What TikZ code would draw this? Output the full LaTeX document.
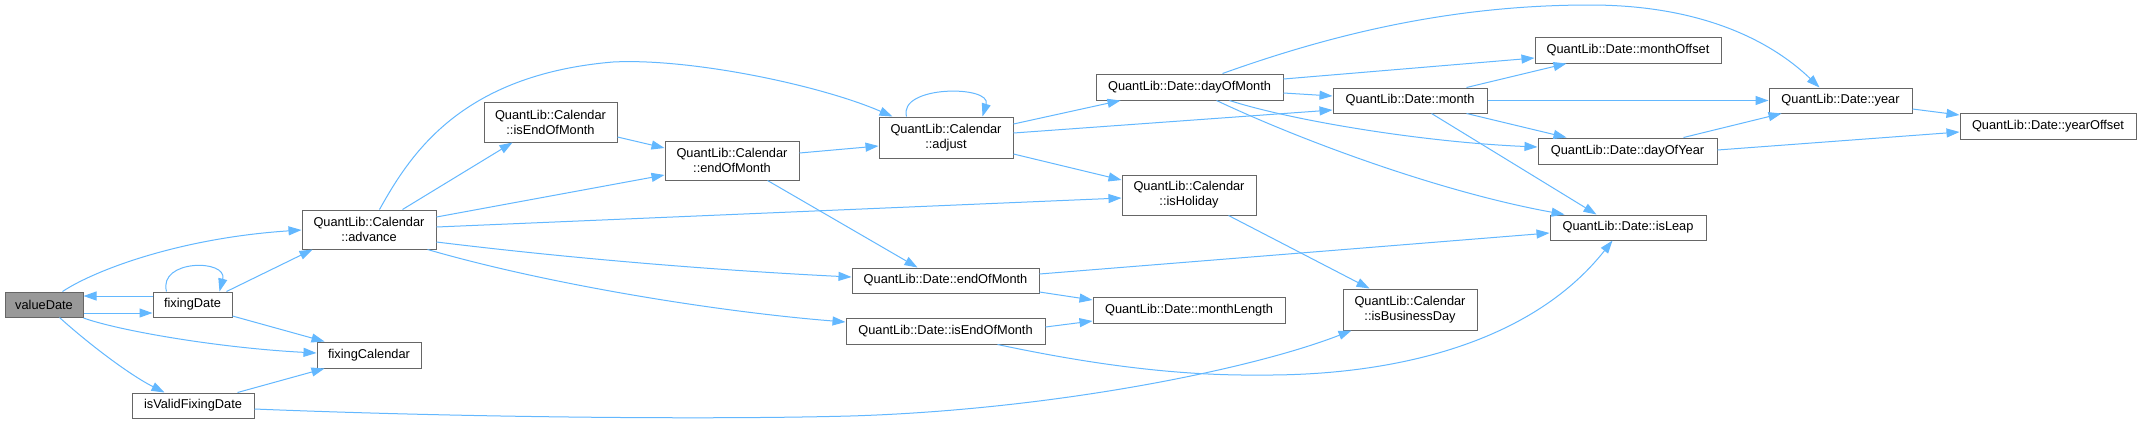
\documentclass[tikz,border=0pt]{standalone}
\usepackage{fontspec}
\setmainfont{Liberation Sans}
\usetikzlibrary{arrows.meta,calc}
\definecolor{edgeblue}{HTML}{63B8FF}
\definecolor{nodeborder}{HTML}{666666}
\definecolor{rootfill}{HTML}{999999}
\begin{document}
\begin{tikzpicture}[x=1pt,y=-1pt,
  box/.style={draw=nodeborder, line width=1pt, fill=white, inner sep=0pt, align=center,
    font=\fontsize{12.8}{15}\selectfont},
  root/.style={box, fill=rootfill},
  call/.style={draw=edgeblue, line width=1pt, -{Triangle[length=13pt,width=9pt]}}]
\fill[white] (0,0) rectangle (2141,424);
\useasboundingbox (0,0) rectangle (2141,424);
% nodes
\node[root, minimum width=78, minimum height=25] (vd) at (44,304.5) {valueDate};
\node[box, minimum width=79, minimum height=25] (fd) at (192.5,304.5) {fixingDate};
\node[box, minimum width=134, minimum height=39] (adv) at (369,229.5) {QuantLib::Calendar\\::advance};
\node[box, minimum width=104, minimum height=26] (fc) at (369,355) {fixingCalendar};
\node[box, minimum width=122, minimum height=25] (iv) at (193,405.5) {isValidFixingDate};
\node[box, minimum width=133, minimum height=40] (cie) at (550.5,122) {QuantLib::Calendar\\::isEndOfMonth};
\node[box, minimum width=134, minimum height=39] (ce) at (732,160.5) {QuantLib::Calendar\\::endOfMonth};
\node[box, minimum width=134, minimum height=41] (adj) at (946,137.5) {QuantLib::Calendar\\::adjust};
\node[box, minimum width=187, minimum height=25] (deom) at (945.5,280.5) {QuantLib::Date::endOfMonth};
\node[box, minimum width=199, minimum height=26] (dieom) at (945.5,331) {QuantLib::Date::isEndOfMonth};
\node[box, minimum width=192, minimum height=26] (ml) at (1189,310) {QuantLib::Date::monthLength};
\node[box, minimum width=134, minimum height=40] (hol) at (1189,195) {QuantLib::Calendar\\::isHoliday};
\node[box, minimum width=134, minimum height=41] (bd) at (1410,309.5) {QuantLib::Calendar\\::isBusinessDay};
\node[box, minimum width=187, minimum height=26] (dom) at (1189.5,87) {QuantLib::Date::dayOfMonth};
\node[box, minimum width=154, minimum height=25] (mon) at (1410,100.5) {QuantLib::Date::month};
\node[box, minimum width=186, minimum height=26] (mo) at (1628,50) {QuantLib::Date::monthOffset};
\node[box, minimum width=179, minimum height=26] (doy) at (1627.5,151) {QuantLib::Date::dayOfYear};
\node[box, minimum width=156, minimum height=25] (leap) at (1628,227.5) {QuantLib::Date::isLeap};
\node[box, minimum width=143, minimum height=25] (year) at (1840.5,100.5) {QuantLib::Date::year};
\node[box, minimum width=176, minimum height=26] (yo) at (2048,126) {QuantLib::Date::yearOffset};
% edges
\draw[call] ($(vd.north west)+(58,0)$) .. controls (95,270) and (180,238) .. ($(adv.west)+(0,0.5)$);
\draw[call] ($(vd.east)+(0,8.5)$) -- ($(fd.west)+(0,8.5)$);
\draw[call] ($(fd.west)+(0,-8.5)$) -- ($(vd.east)+(0,-8.5)$);
\draw[call] ($(fd.north west)+(14,0)$) .. controls (158,259) and (228,259) .. ($(fd.north west)+(67,0)$);
\draw[call] ($(fd.north west)+(74,0)$) -- ($(adv.south west)+(11,0)$);
\draw[call] ($(fd.east)+(0,11.5)$) -- ($(fc.north west)+(8,0)$);
\draw[call] ($(vd.east)+(0,13.5)$) .. controls (120,331) and (220,348) .. ($(fc.west)+(0,-2)$);
\draw[call] ($(vd.south west)+(55,0)$) .. controls (90,345) and (130,375) .. ($(iv.north west)+(33,0)$);
\draw[call] ($(iv.north west)+(106,0)$) -- ($(fc.south west)+(8,0)$);
\draw[call] ($(iv.east)+(0,3.5)$) .. controls (450,417) and (700,420) .. (850,416)
  .. controls (1050,410) and (1250,370) .. ($(bd.south west)+(9,0)$);
\draw[call] ($(adv.north west)+(78,0)$) .. controls (410,155) and (460,75) .. (613,62)
  .. controls (690,58) and (820,85) .. ($(adj.north west)+(14,0)$);
\draw[call] ($(adv.north west)+(101,0)$) -- ($(cie.south west)+(29,0)$);
\draw[call] ($(adv.east)+(0,-12.5)$) -- ($(ce.west)+(0,14.5)$);
\draw[call] ($(adv.east)+(0,-2.5)$) -- ($(hol.west)+(0,3)$);
\draw[call] ($(adv.east)+(0,12.5)$) .. controls (600,262) and (750,272) .. ($(deom.west)+(0,-3.5)$);
\draw[call] ($(adv.south east)+(-9,0)$) .. controls (550,285) and (720,312) .. ($(dieom.west)+(0,-9)$);
\draw[call] ($(cie.east)+(0,15)$) -- ($(ce.west)+(0,-12.5)$);
\draw[call] ($(ce.east)+(0,-7.5)$) -- ($(adj.west)+(0,8.5)$);
\draw[call] ($(ce.south west)+(103,0)$) -- ($(deom.north west)+(66,0)$);
\draw[call] ($(adj.north west)+(28,0)$) .. controls (898,85) and (992,85) .. ($(adj.north west)+(104,0)$);
\draw[call] ($(adj.east)+(0,-13.5)$) -- ($(dom.south west)+(25,0)$);
\draw[call] ($(adj.east)+(0,-4.5)$) -- ($(mon.west)+(0,9.5)$);
\draw[call] ($(adj.east)+(0,16.5)$) -- ($(hol.west)+(0,-15)$);
\draw[call] ($(hol.south west)+(107,0)$) -- ($(bd.north west)+(27,0)$);
\draw[call] ($(deom.east)+(0,-6.5)$) -- ($(leap.west)+(0,5.5)$);
\draw[call] ($(deom.east)+(0,11.5)$) -- ($(ml.west)+(0,-10)$);
\draw[call] ($(dieom.east)+(0,-4)$) -- ($(ml.west)+(0,11)$);
\draw[call] ($(dieom.south west)+(152,0)$) .. controls (1080,362) and (1170,376) .. (1260,375)
  .. controls (1390,376) and (1530,345) .. ($(leap.south west)+(63,0)$);
\draw[call] ($(dom.north west)+(127,0)$) .. controls (1330,35) and (1450,5) .. (1590,5)
  .. controls (1700,5) and (1770,40) .. ($(year.north west)+(51,0)$);
\draw[call] ($(dom.east)+(0,-8)$) -- ($(mo.west)+(0,8)$);
\draw[call] ($(dom.east)+(0,6)$) -- ($(mon.west)+(0,-4.5)$);
\draw[call] ($(dom.south west)+(134,0)$) .. controls (1290,120) and (1420,142) .. ($(doy.west)+(0,-4)$);
\draw[call] ($(dom.south west)+(121,0)$) .. controls (1300,140) and (1440,192) .. ($(leap.north west)+(15,0)$);
\draw[call] ($(mon.north west)+(134,0)$) -- ($(mo.south west)+(32,0)$);
\draw[call] (mon.east) -- (year.west);
\draw[call] ($(mon.south west)+(134,0)$) -- ($(doy.north west)+(29,0)$);
\draw[call] ($(mon.south west)+(99,0)$) -- ($(leap.north west)+(47,0)$);
\draw[call] ($(doy.north west)+(146,0)$) -- ($(year.south west)+(13,0)$);
\draw[call] ($(doy.east)+(0,-1)$) -- ($(yo.west)+(0,6)$);
\draw[call] ($(year.east)+(0,8.5)$) -- ($(yo.west)+(0,-11)$);
\end{tikzpicture}
\end{document}
